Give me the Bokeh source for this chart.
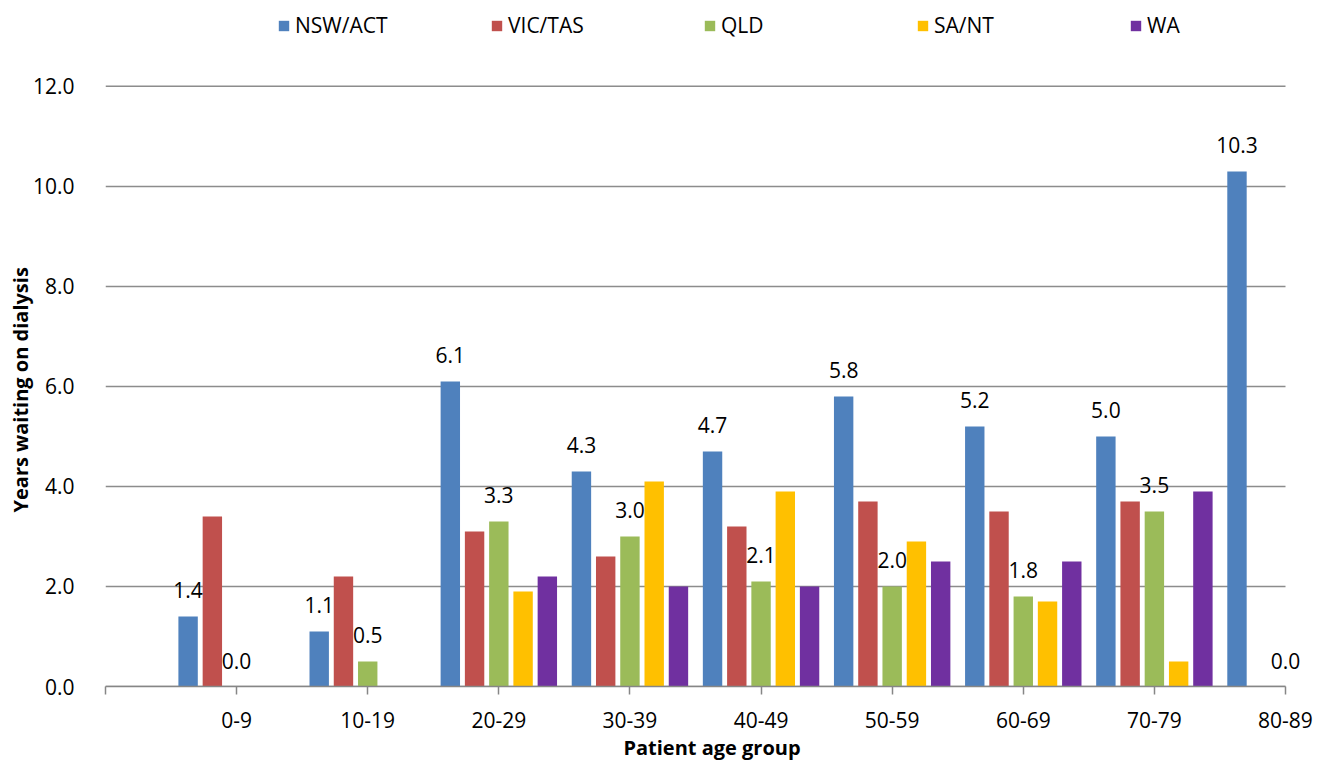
from bokeh.plotting import figure
from bokeh.models import (ColumnDataSource, Range1d, FixedTicker, NumeralTickFormatter,
                          Legend, LegendItem, LabelSet, Title)
from bokeh.transform import dodge
from bokeh.core.properties import value
from bokeh.embed import file_html
from bokeh.resources import INLINE

categories = ["0-9", "10-19", "20-29", "30-39", "40-49", "50-59", "60-69", "70-79", "80-89"]
series_names = ["NSW/ACT", "VIC/TAS", "QLD", "SA/NT", "WA"]
nsw_act = [1.4, 1.1, 6.1, 4.3, 4.7, 5.8, 5.2, 5.0, 10.3]
vic_tas = [3.4, 2.2, 3.1, 2.6, 3.2, 3.7, 3.5, 3.7, 0.0]
qld = [0.0, 0.5, 3.3, 3.0, 2.1, 2.0, 1.8, 3.5, 0.0]
sa_nt = [0.0, 0.0, 1.9, 4.1, 3.9, 2.9, 1.7, 0.5, 0.0]
wa = [0.0, 0.0, 2.2, 2.0, 2.0, 2.5, 2.5, 3.9, 0.0]
colors = ["#4F81BD", "#C0504D", "#9BBB59", "#FFC000", "#7030A0"]
labelled = [True, False, True, False, False]
y_ticks = [0, 2, 4, 6, 8, 10, 12]

FONT = "Open Sans"
n = len(categories)
pos = list(range(1, n + 1))
data = dict(x=pos, nsw=nsw_act, vic=vic_tas, qld=qld, sa=sa_nt, wa=wa)
for k in ["nsw", "vic", "qld", "sa", "wa"]:
    data[k + "_lbl"] = ["%.1f" % v for v in data[k]]
src = ColumnDataSource(data)

# layout (pixels): frame extends to the top and right of the figure so the
# legend and the last data label can sit inside it
W, H = 1318, 763
left_panel = 105
bottom_panel = 76
top_gap = 86          # distance from figure top to the y=12 gridline
axis_px = 1180        # pixel length of the category axis
frame_w = W - left_panel
frame_h = H - bottom_panel
x_end = n * frame_w / axis_px
y_top = max(y_ticks) * frame_h / (frame_h - top_gap)

p = figure(width=W, height=H, output_backend="svg", toolbar_location=None,
           x_range=Range1d(0, x_end), y_range=Range1d(0, y_top),
           min_border_left=left_panel, min_border_right=0, min_border_top=0,
           min_border_bottom=bottom_panel)
p.outline_line_color = None
p.background_fill_color = "white"
p.border_fill_color = "white"

# horizontal gridlines spanning only the category axis extent
grid_src = ColumnDataSource(dict(y=y_ticks, x0=[0] * len(y_ticks), x1=[n] * len(y_ticks)))
p.segment(x0="x0", y0="y", x1="x1", y1="y", source=grid_src,
          line_color="#8c8c8c", line_width=1.5, level="underlay")

step = 0.185
width = 0.148
keys = ["nsw", "vic", "qld", "sa", "wa"]
renderers = []
for i, (k, c) in enumerate(zip(keys, colors)):
    off = (i - 2) * step
    r = p.vbar(x=dodge("x", off, range=p.x_range), top=k, width=width, source=src,
               fill_color=c, line_color=None)
    renderers.append(r)
    if labelled[i]:
        lbl = LabelSet(x=dodge("x", off, range=p.x_range), y=k, text=k + "_lbl", source=src,
                       text_align="center", text_baseline="alphabetic", y_offset=18,
                       text_font=value(FONT), text_font_size=value("21px"),
                       text_color=value("black"))
        p.add_layout(lbl)

# axes
p.xaxis.ticker = FixedTicker(ticks=list(range(0, n + 1)))
p.xaxis.bounds = (0, n)
p.xaxis.major_label_overrides = {0: ""} | {i + 1: c for i, c in enumerate(categories)}
p.xaxis.axis_line_color = "#868686"
p.xaxis.axis_line_width = 1.5
p.xaxis.major_tick_line_color = "#868686"
p.xaxis.major_tick_line_width = 1.5
p.xaxis.major_tick_out = 8
p.xaxis.major_tick_in = 0
p.xaxis.minor_tick_line_color = None
p.xaxis.major_label_standoff = 17
p.xaxis.axis_label = "Patient age group"
p.xaxis.axis_label_standoff = 3

p.yaxis.ticker = FixedTicker(ticks=y_ticks)
p.yaxis.formatter = NumeralTickFormatter(format="0.0")
p.yaxis.axis_line_color = None
p.yaxis.major_tick_line_color = None
p.yaxis.minor_tick_line_color = None
p.yaxis.major_label_standoff = 25

for ax in [p.xaxis[0], p.yaxis[0]]:
    ax.major_label_text_font = FONT
    ax.major_label_text_font_size = "21px"
    ax.major_label_text_color = "black"
    ax.axis_label_text_font = FONT
    ax.axis_label_text_font_size = "20px"
    ax.axis_label_text_font_style = "bold"
    ax.axis_label_text_color = "black"

ytitle = Title(text="Years waiting on dialysis", align="left", offset=174, standoff=-8,
               text_font=FONT, text_font_size="20px", text_font_style="bold",
               text_color="black")
p.add_layout(ytitle, "left")

p.xgrid.grid_line_color = None
p.ygrid.grid_line_color = None

legend = Legend(items=[LegendItem(label=nm, renderers=[r]) for nm, r in zip(series_names, renderers)],
                orientation="horizontal", location=(172, frame_h - 12 - 28),
                glyph_width=13, glyph_height=13, label_standoff=5, label_width=195, spacing=0,
                padding=0, margin=0, border_line_color=None, background_fill_alpha=0,
                label_text_font=FONT, label_text_font_size="21px", label_text_color="black")
p.add_layout(legend, "center")

open("out.html", "w").write(file_html(p, INLINE))
